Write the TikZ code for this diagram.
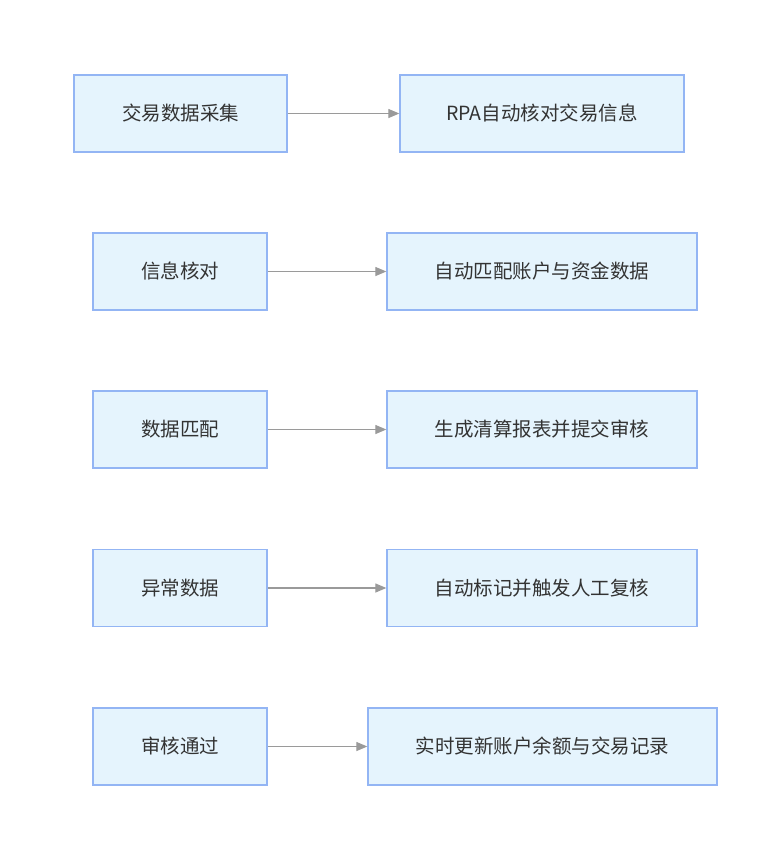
\documentclass[tikz,border=0pt]{standalone}
\usepackage{fontspec}
\setmainfont{Noto Sans CJK SC}
\usepackage{tikz}
\usetikzlibrary{arrows.meta}
\definecolor{boxfill}{HTML}{E5F4FD}
\definecolor{boxline}{HTML}{93B5F4}
\definecolor{linkgray}{HTML}{9A9A9A}
\definecolor{textgray}{HTML}{333333}
\tikzset{stagebox/.style={draw=boxline, fill=boxfill, line width=1.3pt, minimum height=77pt, inner sep=0pt, text=textgray, font=\fontsize{19.5}{22}\selectfont},
	flowlink/.style={draw=linkgray, line width=1.2pt, -{Triangle[length=11pt, width=9pt]}}}

\begin{document}
\begin{tikzpicture}[x=1pt, y=-1pt]
	
	\useasboundingbox (0,0) rectangle (782,849);
	
	% left column
	\node [stagebox, minimum width=213pt] (collect) at (180.5,113.5) {交易数据采集};
	\node [stagebox, minimum width=174pt] (check) at (180,271.5) {信息核对};
	\node [stagebox, minimum width=174pt] (match) at (180,429.5) {数据匹配};
	\node [stagebox, minimum width=174pt] (abnormal) at (180,588) {异常数据};
	\node [stagebox, minimum width=174pt] (pass) at (180,746.5) {审核通过};
	
	% right column
	\node [stagebox, minimum width=284pt] (rpa) at (542,113.5) {RPA自动核对交易信息};
	\node [stagebox, minimum width=310pt] (account) at (542,271.5) {自动匹配账户与资金数据};
	\node [stagebox, minimum width=310pt] (report) at (542,429.5) {生成清算报表并提交审核};
	\node [stagebox, minimum width=310pt] (mark) at (542,588) {自动标记并触发人工复核};
	\node [stagebox, minimum width=349pt] (update) at (542.5,746.5) {实时更新账户余额与交易记录};
	
	
	\draw [flowlink] (collect) -- (rpa);
	\draw [flowlink] (check) -- (account);
	\draw [flowlink] (match) -- (report);
	\draw [flowlink] (abnormal) -- (mark);
	\draw [flowlink] (pass) -- (update);
	
\end{tikzpicture}
\end{document}
